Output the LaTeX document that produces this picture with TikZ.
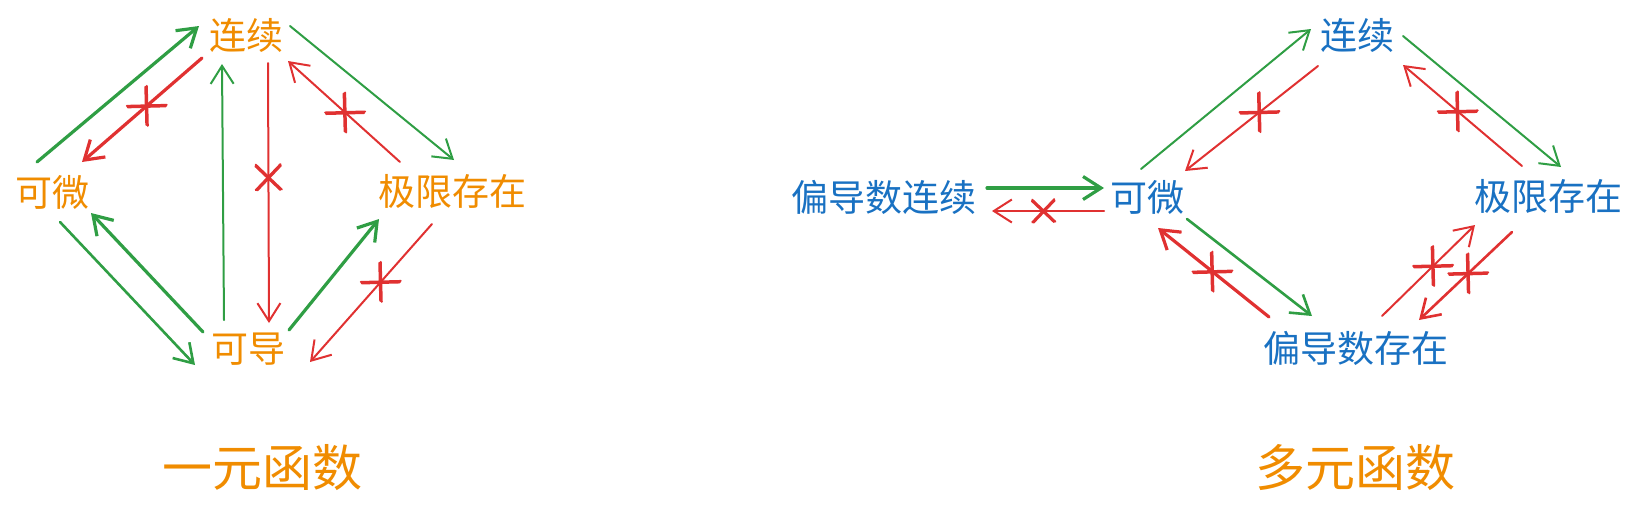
\documentclass[tikz,border=0pt]{standalone}
\usepackage{fontspec}
\newfontfamily\cjk{Noto Sans CJK SC}
\usetikzlibrary{arrows.meta}
\definecolor{ora}{HTML}{F08C00}
\definecolor{blu}{HTML}{1971C2}
\definecolor{grn}{HTML}{2F9E44}
\definecolor{rd}{HTML}{E03131}
\tikzset{
  lbl/.style={font=\cjk\fontsize{37}{37}\selectfont, inner sep=0pt, anchor=center},
  olbl/.style={lbl, text=ora},
  blbl/.style={lbl, text=blu},
  ttl/.style={font=\cjk\fontsize{50}{50}\selectfont, text=ora, inner sep=0pt},
  con/.style={-{Straight Barb[length=18pt,width=23pt]}, line cap=round, line join=round, line width=2pt},
  yes/.style={con, draw=grn},
  no/.style={con, draw=rd},
  heavy/.style={line width=3.2pt},
  pics/nope/.style={code={
    \draw[rd, line width=2pt, line cap=round]
      (-20,0) -- (20,-1) (-19,1.5) -- (19,0.5)
      (0,-20) -- (1,20) (-1.5,-19) -- (-0.5,19);
  }},
}
\begin{document}
\begin{tikzpicture}[x=1pt,y=-1pt]
\useasboundingbox (0,0) rectangle (1641,512);
% ---------- left: one variable ----------
\node[olbl] (Lc) at (246,35) {连续};
\node[olbl] (Lw) at (52,192) {可微};
\node[olbl] (Ll) at (452,191) {极限存在};
\node[olbl] (Ld) at (248,349) {可导};
\node[ttl] (T1) at (262,468) {一元函数};

\coordinate (a1s) at (37,162);  \coordinate (a1e) at (199,26);
\coordinate (a2s) at (202,58);  \coordinate (a2e) at (82,162);
\coordinate (a3s) at (224,320); \coordinate (a3e) at (222,64);
\coordinate (a4s) at (268,63);  \coordinate (a4e) at (269,323);
\coordinate (a5s) at (290,26);  \coordinate (a5e) at (454,160);
\coordinate (a6s) at (400,162); \coordinate (a6e) at (288,61);
\coordinate (a7s) at (60,222);  \coordinate (a7e) at (195,365);
\coordinate (a8s) at (203,332); \coordinate (a8e) at (91,213);
\coordinate (a9s) at (289,330); \coordinate (a9e) at (379,219);
\coordinate (a10s) at (432,224); \coordinate (a10e) at (310,362);

\draw[yes,heavy] (a1s) -- (a1e);
\draw[no,heavy] (a2s) -- (a2e) coordinate[pos=0.46] (x2);
\draw[yes] (a3s) -- (a3e);
\draw[no] (a4s) -- (a4e) coordinate[pos=0.44] (x4);
\draw[yes] (a5s) -- (a5e);
\draw[no] (a6s) -- (a6e) coordinate[pos=0.49] (x6);
\draw[yes,line width=2.6pt] (a7s) -- (a7e);
\draw[yes,heavy] (a8s) -- (a8e);
\draw[yes,heavy] (a9s) -- (a9e);
\draw[no] (a10s) -- (a10e) coordinate[pos=0.42] (x10);
\pic at (x2) {nope};
\pic[rotate=45,scale=0.9] at (x4) {nope};
\pic at (x6) {nope};
\pic at (x10) {nope};

% ---------- right: several variables ----------
\node[blbl] (Rp) at (884,197) {偏导数连续};
\node[blbl] (Rw) at (1147,197) {可微};
\node[blbl] (Rc) at (1357,35) {连续};
\node[blbl] (Rl) at (1548,196) {极限存在};
\node[blbl] (Re) at (1356,348) {偏导数存在};
\node[ttl] (T2) at (1355,468) {多元函数};

\coordinate (bas) at (987,188);  \coordinate (bae) at (1104,188);
\coordinate (bbs) at (1104,211); \coordinate (bbe) at (992,211);
\coordinate (bcs) at (1141,169); \coordinate (bce) at (1311,29);
\coordinate (bds) at (1318,66);  \coordinate (bde) at (1185,171);
\coordinate (bes) at (1403,36);  \coordinate (bee) at (1561,167);
\coordinate (bfs) at (1522,166); \coordinate (bfe) at (1403,65);
\coordinate (bgs) at (1187,219); \coordinate (bge) at (1312,316);
\coordinate (bhs) at (1269,317); \coordinate (bhe) at (1158,228);
\coordinate (bis) at (1382,316); \coordinate (bie) at (1475,225);
\coordinate (bjs) at (1512,232); \coordinate (bje) at (1419,320);

\draw[yes,heavy] (bas) -- (bae);
\draw[no] (bbs) -- (bbe) coordinate[pos=0.54] (xb);
\draw[yes] (bcs) -- (bce);
\draw[no] (bds) -- (bde) coordinate[pos=0.44] (xd);
\draw[yes] (bes) -- (bee);
\draw[no] (bfs) -- (bfe) coordinate[pos=0.54] (xf);
\draw[yes,line width=2.6pt] (bgs) -- (bge);
\draw[no,heavy] (bhs) -- (bhe) coordinate[pos=0.51] (xh);
\draw[no] (bis) -- (bie) coordinate[pos=0.55] (xi);
\draw[no,line width=2.6pt] (bjs) -- (bje) coordinate[pos=0.47] (xj);
\pic[rotate=45,scale=0.8] at (xb) {nope};
\pic at (xd) {nope};
\pic at (xf) {nope};
\pic at (xh) {nope};
\pic at (xi) {nope};
\pic at (xj) {nope};
\end{tikzpicture}
\end{document}
